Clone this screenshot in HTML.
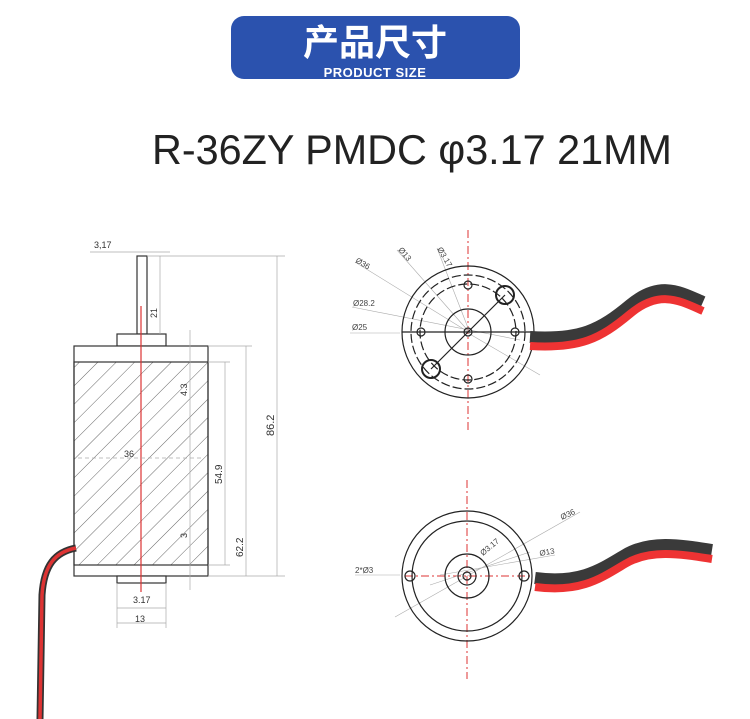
<!DOCTYPE html>
<html><head><meta charset="utf-8"><style>
html,body{margin:0;padding:0;background:#fff;}
svg{display:block;}
text{font-family:"Liberation Sans","Noto Sans CJK SC",sans-serif;}
</style></head><body>
<svg width="750" height="719" viewBox="0 0 750 719" xmlns="http://www.w3.org/2000/svg">
<defs>
<pattern id="h" width="13" height="13" patternUnits="userSpaceOnUse" patternTransform="rotate(45)">
<line x1="0" y1="0" x2="0" y2="13" stroke="#555" stroke-width="0.9"/>
</pattern>
</defs>
<!-- banner -->
<rect x="231" y="16" width="289" height="63" rx="13" fill="#2b52ae"/>
<text x="375" y="55" font-size="36" font-weight="bold" fill="#fff" text-anchor="middle" style="font-family:'Noto Sans CJK SC',sans-serif">产品尺寸</text>
<text x="375" y="77" font-size="13" font-weight="bold" fill="#fff" text-anchor="middle" letter-spacing="0.5">PRODUCT SIZE</text>
<!-- title -->
<text x="152" y="164" font-size="42" fill="#222" textLength="520" lengthAdjust="spacingAndGlyphs">R-36ZY PMDC φ3.17 21MM</text>

<!-- left drawing -->
<g stroke="#333" fill="none" stroke-width="1.2">
<rect x="137" y="256" width="10" height="78" fill="#fff"/>
<rect x="117" y="334" width="49" height="12" fill="#fff"/>
<rect x="74" y="346" width="134" height="230" fill="#fff"/>
<rect x="74" y="362" width="134" height="203" fill="url(#h)"/>
<rect x="117" y="576" width="49" height="7" fill="#fff"/>
</g>
<line x1="141" y1="306" x2="141" y2="592" stroke="#d33" stroke-width="1.2"/>
<g stroke="#aaa" stroke-width="0.7" fill="none">
<line x1="90" y1="252" x2="170" y2="252"/>
<line x1="147" y1="256" x2="285" y2="256"/>
<line x1="277" y1="256" x2="277" y2="576"/>
<line x1="208" y1="576" x2="285" y2="576"/>
<line x1="160" y1="256" x2="160" y2="334"/>
<line x1="208" y1="346" x2="252" y2="346"/>
<line x1="246" y1="346" x2="246" y2="576"/>
<line x1="208" y1="362" x2="230" y2="362"/>
<line x1="208" y1="565" x2="230" y2="565"/>
<line x1="225" y1="362" x2="225" y2="565"/>
<line x1="190" y1="330" x2="190" y2="590"/>
<line x1="78" y1="458" x2="204" y2="458" stroke-dasharray="4 3"/>
<line x1="117" y1="583" x2="117" y2="628"/>
<line x1="166" y1="583" x2="166" y2="628"/>
<line x1="117" y1="608" x2="166" y2="608"/>
<line x1="117" y1="623" x2="166" y2="623"/>
</g>
<g font-size="9" fill="#333">
<text x="94" y="248">3,17</text>
<text x="133" y="603">3.17</text>
<text x="135" y="622">13</text>
<text x="124" y="457">36</text>
<text transform="translate(157,318) rotate(-90)">21</text>
<text transform="translate(187,396) rotate(-90)">4.3</text>
<text transform="translate(187,538) rotate(-90)">3</text>
<text transform="translate(222,484) rotate(-90)" font-size="10">54.9</text>
<text transform="translate(243,557) rotate(-90)" font-size="10">62.2</text>
<text transform="translate(274,436) rotate(-90)" font-size="11">86.2</text>
</g>
<!-- left wire -->
<path d="M76 548 C55 552 44 565 42 595 L40 719" stroke="#333" stroke-width="7" fill="none"/>
<path d="M76 548 C55 552 44 565 42 595 L40 719" stroke="#d33" stroke-width="3.5" fill="none"/>

<!-- top right view -->
<line x1="468" y1="230" x2="468" y2="430" stroke="#d33" stroke-width="1" stroke-dasharray="8 3 2 3"/>
<g stroke="#aaa" stroke-width="0.6">
<line x1="355" y1="262" x2="470" y2="333"/>
<line x1="397" y1="250" x2="470" y2="333"/>
<line x1="437" y1="248" x2="470" y2="333"/>
<line x1="352" y1="307" x2="520" y2="340"/>
<line x1="350" y1="333" x2="400" y2="333"/>
<line x1="468" y1="333" x2="540" y2="375"/>
</g>
<g font-size="8" fill="#444">
<text x="355" y="262" transform="rotate(30 355 262)">Ø36</text>
<text x="398" y="250" transform="rotate(50 398 250)">Ø13</text>
<text x="437" y="249" transform="rotate(60 437 249)">Ø3.17</text>
<text x="353" y="306">Ø28.2</text>
<text x="352" y="330">Ø25</text>
</g>
<g stroke="#222" fill="none" stroke-width="1.2">
<circle cx="468" cy="332" r="66"/>
<circle cx="468" cy="332" r="57" stroke-dasharray="9 3"/>
<circle cx="468" cy="332" r="48" stroke-dasharray="9 3"/>
<circle cx="468" cy="332" r="23"/>
<circle cx="468" cy="332" r="4"/>
<circle cx="468" cy="285" r="4"/><circle cx="468" cy="379" r="4"/>
<circle cx="421" cy="332" r="4"/><circle cx="515" cy="332" r="4"/>
<circle cx="505" cy="295" r="9" stroke-width="2"/>
<circle cx="431" cy="369" r="9" stroke-width="2"/>
<line x1="402" y1="332" x2="534" y2="332"/>
<line x1="431" y1="369" x2="505" y2="295"/>
</g>
<path d="M530 337 C580 340 600 330 630 305 C660 280 680 292 703 302" stroke="#3a3a3a" stroke-width="12" fill="none"/>
<path d="M530 346 C580 349 600 339 630 314 C660 289 680 301 703 311" stroke="#e33" stroke-width="8" fill="none"/>

<!-- bottom right view -->
<line x1="467" y1="480" x2="467" y2="679" stroke="#d33" stroke-width="1" stroke-dasharray="8 3 2 3"/>
<line x1="405" y1="576" x2="530" y2="576" stroke="#d33" stroke-width="1" stroke-dasharray="8 3 2 3"/>
<g stroke="#aaa" stroke-width="0.6">
<line x1="355" y1="575" x2="400" y2="575"/>
<line x1="395" y1="617" x2="580" y2="512"/>
<line x1="430" y1="585" x2="530" y2="552"/>
<line x1="440" y1="575" x2="555" y2="555"/>
</g>
<g font-size="8" fill="#444">
<text x="355" y="573">2*Ø3</text>
<text x="562" y="520" transform="rotate(-25 562 520)">Ø36</text>
<text x="483" y="556" transform="rotate(-40 483 556)">Ø3.17</text>
<text x="540" y="556" transform="rotate(-10 540 556)">Ø13</text>
</g>
<g stroke="#222" fill="none" stroke-width="1.2">
<circle cx="467" cy="576" r="65"/>
<circle cx="467" cy="576" r="55"/>
<circle cx="467" cy="576" r="22"/>
<circle cx="467" cy="576" r="9"/>
<circle cx="467" cy="576" r="4"/>
<circle cx="410" cy="576" r="5"/>
<circle cx="524" cy="576" r="5"/>
</g>
<path d="M535 578 C580 584 600 570 625 555 C650 540 680 545 712 550" stroke="#3a3a3a" stroke-width="12" fill="none"/>
<path d="M535 587 C580 593 600 579 625 564 C650 549 680 554 712 559" stroke="#e33" stroke-width="8" fill="none"/>
</svg>
</body></html>
